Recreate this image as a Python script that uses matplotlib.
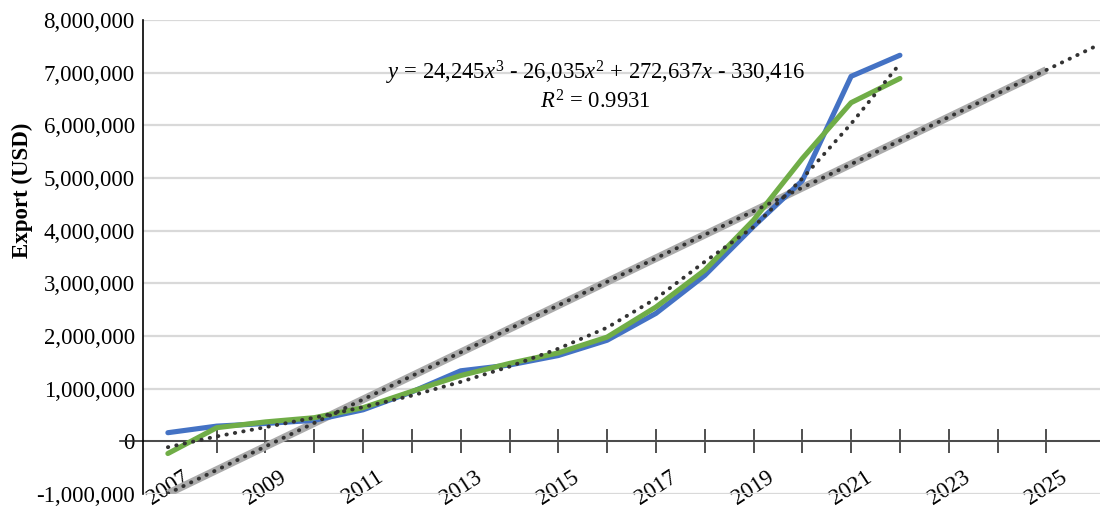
import numpy as np
import matplotlib
matplotlib.use("Agg")
import matplotlib.pyplot as plt
from matplotlib.ticker import FuncFormatter, MultipleLocator

plt.rcParams['font.family'] = ['Liberation Serif', 'DejaVu Serif']
plt.rcParams['mathtext.fontset'] = 'custom'
plt.rcParams['mathtext.rm'] = 'Liberation Serif'
plt.rcParams['mathtext.it'] = 'Liberation Serif:italic'

# data
years = np.arange(2007, 2023)
export_actual = [165000, 290000, 340000, 400000, 600000, 940000, 1340000, 1450000,
                 1630000, 1920000, 2430000, 3150000, 4080000, 4950000, 6930000, 7330000]
export_model = [-230000, 260000, 370000, 450000, 640000, 950000, 1250000, 1480000,
                1680000, 1980000, 2550000, 3250000, 4200000, 5370000, 6430000, 6890000]
# cubic trendline (dotted)
trend_cubic = [-110000, 95000, 270000, 450000, 650000, 870000, 1130000, 1420000,
               1760000, 2160000, 2710000, 3410000, 4070000, 4990000, 6030000, 7170000]
linear_years = [2007, 2025]
linear_vals = [-990000, 7050000]

eq_text = (r'$y$ = 24,245$x^3$ - 26,035$x^2$ + 272,637$x$ - 330,416' '\n'
           r'$R^2$ = 0.9931')

fig = plt.figure(figsize=(11, 5.12), dpi=100)
ax = fig.add_axes([0.130, 0.035, 0.870, 0.926])

# linear trend on the grey series, one period forward
lin = np.polyfit(linear_years, linear_vals, 1)
lin_x = np.arange(2007, 2027)

dots = dict(color='#333333', lw=2.8, linestyle=(0, (0.1, 2.1)),
            dash_capstyle='round', zorder=5)
ax.plot(linear_years, linear_vals, color='#ABABAB', lw=5.5, solid_capstyle='butt', zorder=2)
ax.plot(years, export_actual, color='#4472C4', lw=3.7, solid_capstyle='round', zorder=3)
ax.plot(years, export_model, color='#70AD47', lw=3.7, solid_capstyle='round', zorder=4)
ax.plot(years, trend_cubic, **dots)
ax.plot(lin_x, np.polyval(lin, lin_x), **dots)

ax.set_xlim(2006.49, 2026.1)
ax.set_ylim(-1000000, 8000000)

ax.yaxis.set_major_locator(MultipleLocator(1000000))
ax.yaxis.set_major_formatter(FuncFormatter(lambda v, p: f'{int(v):,}'))
ax.grid(axis='y', color='#d9d9d9', lw=1.6, zorder=0)
ax.set_axisbelow(True)

for s in ['top', 'right']:
    ax.spines[s].set_visible(False)
ax.spines['left'].set_color('black')
ax.spines['left'].set_linewidth(1.2)
ax.spines['bottom'].set_position(('data', 0))
ax.spines['bottom'].set_color('none')
ax.axhline(0, xmin=-0.024, xmax=1, color='#303030', lw=1.2, clip_on=False, zorder=1)

ax.xaxis.remove_overlapping_locs = False
ax.set_xticks(np.arange(2007, 2026, 2))
ax.set_xticks(np.arange(2008, 2026), minor=True)
ax.set_xticklabels([str(y) for y in range(2007, 2026, 2)], rotation=33, ha='center')
ax.tick_params(axis='x', which='major', length=0, pad=18, labelsize=16.5)
ax.tick_params(axis='x', which='minor', direction='inout', length=17, width=1.1, color='#202020')
ax.tick_params(axis='y', length=0, pad=6, labelsize=16.5)

ax.set_ylabel('Export (USD)', fontsize=16.5, fontweight='bold')
ax.yaxis.set_label_coords(-0.115, 0.64)

ax.text(0.473, 0.861, eq_text, transform=ax.transAxes, ha='center', va='center',
        fontsize=16.3, linespacing=1.2)

fig.savefig('out.png', dpi=100)
